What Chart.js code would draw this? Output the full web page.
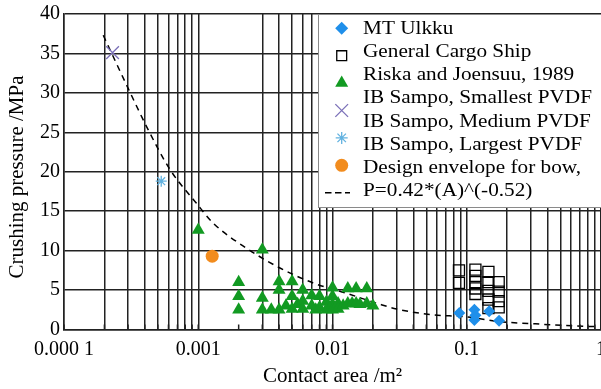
<!DOCTYPE html>
<html><head><meta charset="utf-8">
<script src="https://cdn.jsdelivr.net/npm/chart.js@4.4.1/dist/chart.umd.min.js"></script>
<style>html,body{margin:0;padding:0;background:#fff;}#wrap{width:601px;height:389px;}</style>
</head><body><div id="wrap"><canvas id="c" width="601" height="389"></canvas></div>
<script>
// ---- axis ticks ----
const xTickValues = [0.0001,0.0002,0.0003,0.0004,0.0005,0.0006,0.0007,0.0008,0.0009,
  0.001,0.002,0.003,0.004,0.005,0.006,0.007,0.008,0.009,
  0.01,0.02,0.03,0.04,0.05,0.06,0.07,0.08,0.09,
  0.1,0.2,0.3,0.4,0.5,0.6,0.7,0.8,0.9,1];
const xDecadeValues = [0.0001,0.001,0.01,0.1,1];
const xDecadeLabels = ['0.000 1','0.001','0.01','0.1','1'];
const xNoGridValues = [0.002];
const yMin = 0, yMax = 40, yStep = 5;

// ---- series ----
const ulkkuA = [0.088,0.114,0.114,0.116,0.147,0.174];
const ulkkuP = [2.1,2.5,1.2,1.8,2.3,1.1];

const cargoA = [0.0875,0.0875, 0.116,0.116,0.116,0.116,0.116, 0.145,0.145,0.145,0.145,0.145, 0.173,0.173,0.173,0.173];
const cargoP = [7.5,5.9, 7.6,6.8,6.0,5.2,4.5, 7.3,6.0,4.9,3.8,2.7, 6.0,4.8,3.6,2.8];

const riskaA = [0.001,0.003, 0.002,0.002,0.002, 0.003,0.003,0.0035, 0.004,0.004,0.004, 0.0045,
  0.005,0.005,0.005, 0.0055, 0.006,0.006,0.006, 0.007,0.007,0.0075, 0.008,0.008,0.009,0.009,
  0.01,0.01,0.01,0.01, 0.011,0.011,0.012, 0.013,0.013,0.014,0.015,0.015,0.016,0.018,0.018,0.02];
const riskaP = [12.6,10.1, 6.0,4.2,2.5, 4.0,2.5,2.5, 6.1,5.0,2.5, 3.0,
  6.1,4.2,2.6, 3.2, 5.0,3.6,2.6, 4.3,3.0,2.5, 4.2,2.8,3.5,2.5,
  5.3,4.2,3.2,2.5, 3.3,2.6,3.0, 5.2,3.3,3.3,5.2,3.3,3.2,5.2,3.3,3.0];

const smallestA = [0.00023];
const smallestP = [35.1];
const mediumA = [0.00053];
const mediumP = [18.8];
const largestA = [0.00127];
const largestP = [9.3];

// dashed design-envelope curve
const envA = [0.000196,0.0003,0.000413,0.000615,0.00097,0.00129,0.00229,0.00406,0.00718,0.0127,0.0225,0.030,0.053,0.1,0.175,0.3,0.55,0.95];
const envP = [37.3,30.6,25.7,20.3,16.0,13.5,10.3,7.8,5.9,4.6,3.2,2.6,1.9,1.6,1.0,0.75,0.5,0.35];

const labels = ['MT Ulkku','General Cargo Ship','Riska and Joensuu, 1989','IB Sampo, Smallest PVDF',
  'IB Sampo, Medium PVDF','IB Sampo, Largest PVDF',['Design envelope for bow,','P=0.42*(A)^(-0.52)']];

const pts = (a,p) => a.map((v,i)=>({x:v,y:p[i]}));
const same = (a,b) => Math.abs(Math.log10(a)-Math.log10(b)) < 1e-6;
const FONT = "'Liberation Serif', 'Times New Roman', serif";

function drawMarker(ctx, style, x, y, r, color, lw){
  ctx.save();
  ctx.fillStyle = color; ctx.strokeStyle = color; ctx.lineWidth = lw || 1.3;
  ctx.beginPath();
  if (style==='rectRot'){ ctx.moveTo(x,y-r);ctx.lineTo(x+r,y);ctx.lineTo(x,y+r);ctx.lineTo(x-r,y);ctx.closePath();ctx.fill(); }
  else if (style==='rect'){ const s=r*Math.SQRT1_2; ctx.strokeStyle='#000'; ctx.rect(x-s,y-s,2*s,2*s); ctx.stroke(); }
  else if (style==='triangle'){ const a=Math.PI*2/3; for(let k=0;k<3;k++){const t=k*a; const px=x+Math.sin(t)*r, py=y-Math.cos(t)*r; k?ctx.lineTo(px,py):ctx.moveTo(px,py);} ctx.closePath(); ctx.fill(); }
  else if (style==='crossRot'){ const d=r*Math.SQRT1_2; ctx.moveTo(x-d,y-d);ctx.lineTo(x+d,y+d);ctx.moveTo(x+d,y-d);ctx.lineTo(x-d,y+d);ctx.stroke(); }
  else if (style==='star'){ const d=r*Math.SQRT1_2; ctx.moveTo(x,y-r);ctx.lineTo(x,y+r);ctx.moveTo(x-r,y);ctx.lineTo(x+r,y);ctx.moveTo(x-d,y-d);ctx.lineTo(x+d,y+d);ctx.moveTo(x+d,y-d);ctx.lineTo(x-d,y+d);ctx.stroke(); }
  else if (style==='circle'){ ctx.arc(x,y,r,0,Math.PI*2); ctx.fill(); }
  ctx.restore();
}

// stretch the plot area to the right edge of the canvas, as in the original figure
const fullRight = {
  id:'fullRight',
  afterLayout(chart){
    const xs = chart.scales.x, ca = chart.chartArea, R = 601;
    xs.right = R; xs.width = R - xs.left; xs.configure();
    ca.right = R; ca.width = R - ca.left;
  }
};

const boxLegend = {
  id:'boxLegend',
  afterDraw(chart){
    const ctx = chart.ctx, ca = chart.chartArea;
    const L = 318, T = ca.top, B = 207;
    ctx.save();
    ctx.fillStyle = '#fff'; ctx.fillRect(L, T, 700, B-T);
    ctx.strokeStyle = '#8a8a8a'; ctx.lineWidth = 1; ctx.strokeRect(L+0.5, T+0.5, 700, B-T);
    const order = [1,2,3,4,5,6,0];
    let row = 0;
    order.forEach((di, j) => {
      const ds = chart.data.datasets[di];
      const my = 28.3 + 27.4*j;
      if (ds.legendStyle === 'dash'){
        ctx.save(); ctx.strokeStyle='#000'; ctx.lineWidth=1.5; ctx.setLineDash([6.5,3.5]);
        ctx.beginPath(); ctx.moveTo(325,my); ctx.lineTo(350,my); ctx.stroke(); ctx.restore();
      } else {
        drawMarker(ctx, ds.pointStyle, 341.7, my, ds.legendRadius, ds.backgroundColor, ds.borderWidth);
      }
      const lines = Array.isArray(ds.label) ? ds.label : [ds.label];
      lines.forEach(t => {
        const ty = 28.8 + 23.25*row;
        ctx.save(); ctx.translate(363, ty); ctx.scale(1.18,1);
        ctx.font = '18px ' + FONT; ctx.fillStyle = '#000'; ctx.textBaseline='middle'; ctx.textAlign='left';
        ctx.fillText(t, 0, 0); ctx.restore();
        row++;
      });
    });
    ctx.restore();
  }
};

const innerTicks = {
  id:'innerTicks',
  afterDatasetsDraw(chart){
    const xs = chart.scales.x, ctx = chart.ctx, b = chart.chartArea.bottom;
    ctx.save(); ctx.strokeStyle='#222'; ctx.lineWidth=1.5;
    xTickValues.forEach(v => { const px = xs.getPixelForValue(v); ctx.beginPath(); ctx.moveTo(px,b); ctx.lineTo(px,b-5); ctx.stroke(); });
    ctx.restore();
  }
};

const datasets = [
  {label:labels[6], type:'line', data:pts(envA,envP), borderColor:'#000', borderWidth:1.5, borderDash:[6,5],
   pointRadius:0, showLine:true, fill:false, cubicInterpolationMode:'monotone', order:1, legendStyle:'dash', backgroundColor:'#000'},
  {label:labels[0], data:pts(ulkkuA,ulkkuP), pointStyle:'rectRot', pointRadius:6, backgroundColor:'#1f8fea', borderColor:'#1f8fea', borderWidth:0, legendRadius:6.5, order:0},
  {label:labels[1], data:pts(cargoA,cargoP), pointStyle:'rect', pointRadius:7.8, backgroundColor:'rgba(0,0,0,0)', borderColor:'#000', borderWidth:1.3, legendRadius:7, order:0},
  {label:labels[2], data:pts(riskaA,riskaP), pointStyle:'triangle', pointRadius:7.5, backgroundColor:'#129a22', borderColor:'#129a22', borderWidth:0, legendRadius:7.5, order:0},
  {label:labels[3], data:pts(smallestA,smallestP), pointStyle:'crossRot', pointRadius:9, backgroundColor:'#7b70b8', borderColor:'#7b70b8', borderWidth:1.3, legendRadius:9, order:0},
  {label:labels[4], data:pts(mediumA,mediumP), pointStyle:'star', pointRadius:5.5, backgroundColor:'#62b2e0', borderColor:'#62b2e0', borderWidth:1.3, legendRadius:6, order:0},
  {label:labels[5], data:pts(largestA,largestP), pointStyle:'circle', pointRadius:6.5, backgroundColor:'#f28c1e', borderColor:'#f28c1e', borderWidth:0, legendRadius:6.5, order:0}
];

new Chart(document.getElementById('c'), {
  type:'scatter',
  data:{datasets},
  plugins:[fullRight, innerTicks, boxLegend],
  options:{
    responsive:false, animation:false, devicePixelRatio:1,
    layout:{padding:{top:14,right:0,left:0,bottom:0}},
    plugins:{legend:{display:false}, tooltip:{enabled:false}},
    scales:{
      x:{type:'logarithmic', min:0.0001, max:1,
        afterBuildTicks(s){ s.ticks = xTickValues.map(v=>({value:v})); },
        afterFit(s){ s.height = 59.5; s.paddingLeft=0; s.paddingRight=0; },
        ticks:{autoSkip:false, maxRotation:0, minRotation:0, padding:8, color:'#000',
          font:{family:FONT, size:20},
          callback(v){ const i = xDecadeValues.findIndex(d=>same(d,v)); return i>=0 ? xDecadeLabels[i] : ''; }},
        grid:{drawTicks:false, lineWidth:1.5,
          color(c){ const v = c.tick && c.tick.value; return (v && xNoGridValues.some(d=>same(d,v))) ? 'rgba(0,0,0,0)' : '#222'; }},
        border:{display:true, color:'#222', width:1.5},
        title:{display:true, text:'Contact area /m\u00B2', color:'#000', font:{family:FONT, size:21}, padding:{top:0,bottom:0}}
      },
      y:{min:yMin, max:yMax,
        afterFit(s){ s.width = 64; s.paddingTop=0; s.paddingBottom=0; },
        ticks:{stepSize:yStep, padding:4, color:'#000', font:{family:FONT, size:20}},
        grid:{drawTicks:false, lineWidth:1.5, color:'#222'},
        border:{display:true, color:'#222', width:1.5},
        title:{display:true, text:'Crushing pressure /MPa\u00A0\u00A0', color:'#000', font:{family:FONT, size:21}, padding:{top:5,bottom:0}}
      }
    }
  }
});
</script></body></html>
